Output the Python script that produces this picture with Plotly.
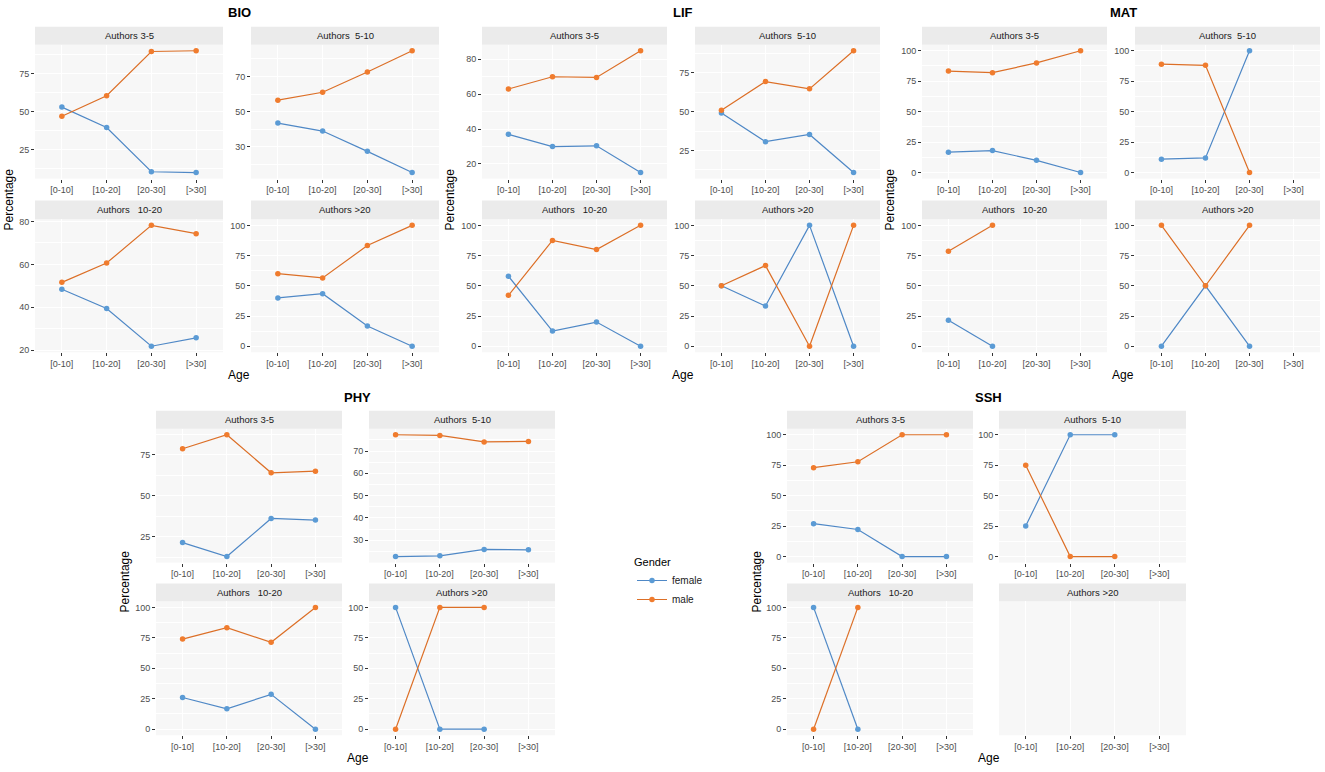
import plotly.graph_objects as go

W, H = 1325, 772

AGE = ["[0-10]", "[10-20]", "[20-30]", "[>30]"]
FACETS = ["Authors 3-5", "Authors\u00a0 5-10", "Authors\u00a0\u00a0 10-20", "Authors >20"]

# order of facets: 3-5, 5-10, 10-20, >20 ; values per age class
BIO_female = [[53, 39.5, 10.3, 9.8], [43.5, 39, 27.5, 15.5], [48.4, 39.4, 21.8, 25.7], [40, 43.5, 16.7, 0]]
BIO_male = [[47, 60.5, 89.7, 90.2], [56.5, 61, 72.5, 84.5], [51.6, 60.6, 78.2, 74.3], [60, 56.5, 83.3, 100]]
BIO_breaks = [[25, 50, 75], [30, 50, 70], [20, 40, 60, 80], [0, 25, 50, 75, 100]]

LIF_female = [[37, 30, 30.4, 15.1], [49.1, 30.6, 35.3, 10.7], [57.9, 12.5, 20, 0], [50, 33.3, 100, 0]]
LIF_male = [[63, 70, 69.6, 84.9], [50.9, 69.4, 64.7, 89.3], [42.1, 87.5, 80, 100], [50, 66.7, 0, 100]]
LIF_breaks = [[20, 40, 60, 80], [25, 50, 75], [0, 25, 50, 75, 100], [0, 25, 50, 75, 100]]

MAT_female = [[16.7, 18, 10, 0], [11, 12, 100, None], [21.4, 0, None, None], [0, 50, 0, None]]
MAT_male = [[83.3, 82, 90, 100], [89, 88, 0, None], [78.6, 100, None, None], [100, 50, 100, None]]
MAT_breaks = [[0, 25, 50, 75, 100]] * 4

PHY_female = [[21.4, 12.9, 36.1, 35.1], [22.7, 23.0, 25.9, 25.7], [26, 16.7, 28.6, 0], [100, 0, 0, None]]
PHY_male = [[78.6, 87.1, 63.9, 64.9], [77.3, 77.0, 74.1, 74.3], [74, 83.3, 71.4, 100], [0, 100, 100, None]]
PHY_breaks = [[25, 50, 75], [30, 40, 50, 60, 70], [0, 25, 50, 75, 100], [0, 25, 50, 75, 100]]

SSH_female = [[27, 22.2, 0, 0], [25, 100, 100, None], [100, 0, None, None], [None, None, None, None]]
SSH_male = [[73, 77.8, 100, 100], [75, 0, 0, None], [0, 100, None, None], [None, None, None, None]]
SSH_breaks = [[0, 25, 50, 75, 100], [0, 25, 50, 75, 100], [0, 25, 50, 75, 100], []]

GROUPS = ["BIO", "LIF", "MAT", "PHY", "SSH"]
FEMALE = {"BIO": BIO_female, "LIF": LIF_female, "MAT": MAT_female, "PHY": PHY_female, "SSH": SSH_female}
MALE = {"BIO": BIO_male, "LIF": LIF_male, "MAT": MAT_male, "PHY": PHY_male, "SSH": SSH_male}
BREAKS = {"BIO": BIO_breaks, "LIF": LIF_breaks, "MAT": MAT_breaks, "PHY": PHY_breaks, "SSH": SSH_breaks}

# layout geometry (pixels)
TOP = dict(s1=(24, 42), p1=(42, 177), s2=(199, 218), p2=(218, 352), title=10, age=375, pct=198)
BOT = dict(s1=(411, 429), p1=(429, 564), s2=(585, 603), p2=(603, 738), title=398, age=761, pct=583)
GEOM = {
    "BIO": dict(L=(35, 223), R=(251, 439), row=TOP, pctx=9),
    "LIF": dict(L=(482, 667), R=(695, 880), row=TOP, pctx=450),
    "MAT": dict(L=(922, 1107), R=(1135, 1320), row=TOP, pctx=890),
    "PHY": dict(L=(156, 342), R=(369, 555), row=BOT, pctx=125),
    "SSH": dict(L=(787, 973), R=(999, 1186), row=BOT, pctx=757),
}

C_F_MARK, C_F_LINE = "#5b9bd5", "#4f88c6"
C_M_MARK, C_M_LINE = "#f07c2e", "#dc6f27"
FONT = "Liberation Sans"

fig = go.Figure()
shapes, annots = [], []
layout = {}


def px2x(p):
    return p / W


def px2y(p):
    return 1 - p / H


idx = 0
first = True
for g in GROUPS:
    geo = GEOM[g]
    row = geo["row"]
    for k in range(4):
        idx += 1
        xs = geo["L"] if k % 2 == 0 else geo["R"]
        strip = row["s1"] if k < 2 else row["s2"]
        plot = row["p1"] if k < 2 else row["p2"]
        fem = FEMALE[g][k]
        mal = MALE[g][k]
        br = BREAKS[g][k]
        vals = [v for v in fem + mal if v is not None]
        if vals:
            lo, hi = min(vals), max(vals)
            pad = 0.05 * (hi - lo)
            yr = [lo - pad, hi + pad]
        else:
            yr = [0, 1]
        minor = []
        if len(br) >= 2:
            step = br[1] - br[0]
            m = br[0] - step / 2
            while m <= yr[1]:
                if yr[0] <= m <= yr[1]:
                    minor.append(m)
                m += step
        xa = "xaxis" if idx == 1 else f"xaxis{idx}"
        ya = "yaxis" if idx == 1 else f"yaxis{idx}"
        xr = "x" if idx == 1 else f"x{idx}"
        yrf = "y" if idx == 1 else f"y{idx}"
        layout[xa] = dict(
            domain=[px2x(xs[0]), px2x(xs[1])], anchor=yrf, type="category",
            categoryorder="array", categoryarray=AGE, range=[-0.6, 3.6],
            showgrid=True, gridcolor="white", gridwidth=1.1, zeroline=False,
            ticks="outside", ticklen=3, tickcolor="#333333", tickwidth=1,
            tickfont=dict(family=FONT, size=9, color="#4d4d4d"), showline=False,
            fixedrange=True,
        )
        layout[ya] = dict(
            domain=[px2y(plot[1]), px2y(plot[0])], anchor=xr, range=yr,
            tickmode="array", tickvals=br, ticktext=[str(b) for b in br],
            showticklabels=bool(br), ticks="outside" if br else "", ticklen=3,
            tickcolor="#333333", tickwidth=1,
            tickfont=dict(family=FONT, size=9, color="#4d4d4d"),
            showgrid=True, gridcolor="white", gridwidth=1.1, zeroline=False,
            minor=dict(tickmode="array", tickvals=minor, showgrid=True,
                       gridcolor="white", gridwidth=0.5, ticks=""),
            fixedrange=True,
        )
        # strip
        shapes.append(dict(type="rect", xref="paper", yref="paper",
                           x0=px2x(xs[0]), x1=px2x(xs[1]),
                           y0=px2y(strip[1]), y1=px2y(strip[0]),
                           fillcolor="#ebebeb", line=dict(width=0), layer="below"))
        annots.append(dict(text=FACETS[k], xref="paper", yref="paper",
                           x=px2x((xs[0] + xs[1]) / 2), y=px2y((strip[0] + strip[1]) / 2),
                           xanchor="center", yanchor="middle", showarrow=False,
                           font=dict(family=FONT, size=9.5, color="#1a1a1a")))
        fig.add_trace(go.Scatter(
            x=AGE, y=fem, xaxis=xr, yaxis=yrf, mode="lines+markers", name="female",
            legendgroup="female", showlegend=first,
            line=dict(color=C_F_LINE, width=1.2), marker=dict(color=C_F_MARK, size=5.5),
            connectgaps=False))
        fig.add_trace(go.Scatter(
            x=AGE, y=mal, xaxis=xr, yaxis=yrf, mode="lines+markers", name="male",
            legendgroup="male", showlegend=first,
            line=dict(color=C_M_LINE, width=1.2), marker=dict(color=C_M_MARK, size=5.5),
            connectgaps=False))
        first = False
    # group titles and axis titles
    cx = (geo["L"][0] + geo["R"][1]) / 2
    annots.append(dict(text=f"<b>{g}</b>", xref="paper", yref="paper", x=px2x(cx + 2),
                       y=px2y(row["title"]), xanchor="center", yanchor="middle",
                       showarrow=False, font=dict(family=FONT, size=13, color="black")))
    annots.append(dict(text="Age", xref="paper", yref="paper", x=px2x(cx + 2),
                       y=px2y(row["age"]), xanchor="center", yanchor="middle",
                       showarrow=False, font=dict(family=FONT, size=12, color="black")))
    annots.append(dict(text="Percentage", xref="paper", yref="paper", x=px2x(geo["pctx"]),
                       y=px2y(row["pct"]), xanchor="center", yanchor="middle", textangle=-90,
                       showarrow=False, font=dict(family=FONT, size=12, color="black")))

fig.update_layout(
    width=W, height=H, margin=dict(l=0, r=0, t=0, b=0),
    paper_bgcolor="white", plot_bgcolor="#f7f7f7",
    shapes=shapes, annotations=annots,
    legend=dict(title=dict(text="Gender", font=dict(family=FONT, size=11, color="black")),
                x=px2x(632), y=px2y(553), xanchor="left", yanchor="top",
                font=dict(family=FONT, size=10, color="#1a1a1a"), bgcolor="rgba(0,0,0,0)",
                tracegroupgap=0, itemwidth=30),
    **layout,
)

fig.write_html(
    "out.html",
    config={"displayModeBar": False},
    post_script="document.body.style.margin='0';document.body.style.overflow='hidden';",
)
